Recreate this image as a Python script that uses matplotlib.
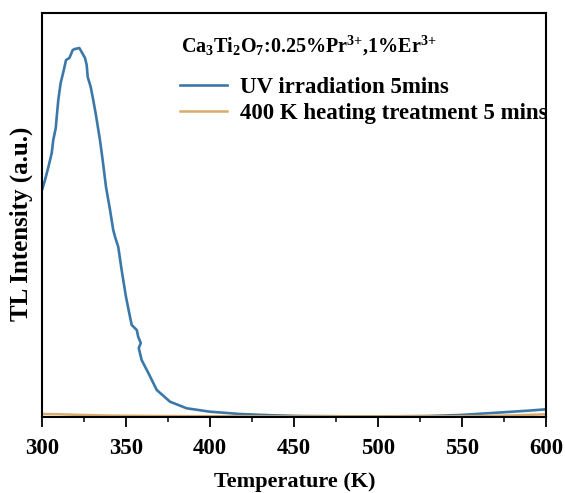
import numpy as np
import matplotlib
matplotlib.use("Agg")
import matplotlib.pyplot as plt
from matplotlib.ticker import MultipleLocator

plt.rcParams['font.family'] = 'Liberation Serif'
plt.rcParams['font.weight'] = 'bold'
plt.rcParams['mathtext.fontset'] = 'custom'
plt.rcParams['mathtext.rm'] = 'Liberation Serif:bold'
plt.rcParams['mathtext.it'] = 'Liberation Serif:bold'
plt.rcParams['mathtext.bf'] = 'Liberation Serif:bold'
plt.rcParams['mathtext.default'] = 'rm'

# TL glow curve after UV irradiation (a.u.)
T_uv = [300.0, 301.8, 303.8, 305.8, 306.7, 308.2, 308.6, 309.7, 311.1, 312.7,
        314.3, 316.3, 318.3, 319.6, 322.2, 323.6, 325.6, 326.6, 327.2, 329.0,
        330.5, 332.1, 334.5, 336.1, 338.1, 340.5, 342.4, 343.5, 345.4, 347.4,
        350.0, 352.4, 353.4, 356.4, 357.3, 358.8, 357.6, 359.3, 363.3, 368.3,
        376.2, 386.1, 400.0, 417.9, 437.5, 453.6, 480.0, 510.0, 530.0, 548.8,
        572.6, 590.0, 600.0]
I_uv = [227, 237, 250, 264, 277, 289, 297, 317, 334, 345,
        357, 359, 367, 368, 369, 365, 359, 352, 340, 330,
        317, 302, 277, 257, 230, 207, 187, 180, 170, 147,
        120, 100, 92, 87, 80, 74, 69, 57, 44, 27,
        15.3, 8.7, 5.3, 3.0, 1.7, 1.0, 0.7, 0.7, 1.0, 2.0,
        4.5, 6.4, 7.7]

# after 400 K heating treatment
T_heat = [300, 310, 320, 340, 370, 400, 450, 500, 540, 560, 580, 600]
I_heat = [3.0, 2.8, 2.2, 1.4, 1.0, 0.8, 0.6, 0.6, 0.7, 0.9, 1.6, 2.7]

labels = ['UV irradiation 5mins', '400 K heating treatment 5 mins']
colors = ['#3b78aa', '#d9aa6c']

fig = plt.figure(figsize=(5.65, 4.93), dpi=100)
ax = fig.add_axes([42/565, 76/493, 504/565, 404.5/493])

ax.plot(T_uv, I_uv, color=colors[0], lw=1.9, label=labels[0])
ax.plot(T_heat, I_heat, color=colors[1], lw=1.8, label=labels[1])

ax.set_xlim(300, 600)
ax.set_ylim(0, 404.5)
ax.xaxis.set_major_locator(MultipleLocator(50))
ax.xaxis.set_minor_locator(MultipleLocator(25))
ax.tick_params(axis='x', which='major', direction='out', length=7, width=1.3,
               labelsize=16.5, pad=8)
ax.tick_params(axis='x', which='minor', direction='out', length=3.5, width=1.1)
ax.set_yticks([])
for s in ax.spines.values():
    s.set_linewidth(1.5)

fig.text(295/565, 1 - 482/493, 'Temperature (K)', fontsize=16, fontweight='bold',
         ha='center', va='center')
fig.text(21/565, 1 - 224/493, 'TL Intensity (a.u.)', fontsize=18, fontweight='bold',
         ha='center', va='center', rotation=90)

ax.text((181-42)/504, (417-46)/404.5,
        r'Ca$_3$Ti$_2$O$_7$:0.25%Pr$^{3{+}}$,1%Er$^{3{+}}$',
        transform=ax.transAxes, fontsize=14.5, fontweight='bold', va='center', ha='left')

ax.legend(loc='upper left', bbox_to_anchor=((180-42)/504, (417-77)/404.5), frameon=False,
          fontsize=16.5, handlelength=2.05, handletextpad=0.57, labelspacing=0.22,
          borderaxespad=0, borderpad=0)

fig.savefig('out.png', dpi=100)
